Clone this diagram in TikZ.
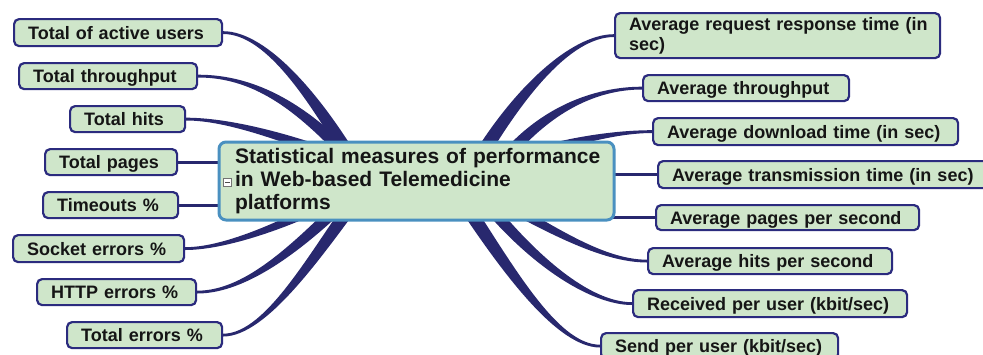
\documentclass[tikz,border=0pt]{standalone}
\usepackage{fontspec}
\setmainfont{Liberation Sans}
\usetikzlibrary{calc}
\pgfdeclarelayer{bg}
\pgfsetlayers{bg,main}
\definecolor{navyb}{HTML}{2B2B7E}
\definecolor{connc}{HTML}{28286E}
\definecolor{leafg}{HTML}{CFE6CA}
\definecolor{hubb}{HTML}{4A90C0}
\definecolor{txt}{HTML}{151515}
\tikzset{
  leaf/.style={draw=navyb, line width=2.2pt, fill=leafg, rounded corners=5pt,
    inner xsep=14pt, inner ysep=0pt, align=left, anchor=north west,
    text height=13pt, text depth=0.1pt, text=txt,
    font=\fontsize{18}{20}\selectfont\bfseries},
  multiline/.style={text height={}, text depth={}},
  hubbox/.style={draw=hubb, line width=3pt, fill=leafg, rounded corners=7pt,
    inner xsep=16pt, inner ysep=0pt, align=left, text=txt,
    font=\fontsize{21}{23}\selectfont\bfseries},
  togglebox/.style={draw=black!55, fill=white, line width=0.5pt,
    minimum size=8pt, inner sep=0pt},
  connfill/.style={fill=connc},
  connline/.style={draw=connc, line width=3.2pt}
}
% #1 start offset from hub centre, #2 first control point, #3 second control dx from end,
% #4 end anchor, #5 start half-width vector, #6 end half-width (signed y)
\newcommand\mmbranch[6]{%
  \fill[connfill]
    ($(hub.center)+(#1)+(#5)$) .. controls ($(#2)+(#5)$) and ($(#4)+(#3,#6)$) .. ($(#4)+(0,#6)$)
    -- ($(#4)-(0,#6)$) .. controls ($(#4)+(#3,0)-(0,#6)$) and ($(#2)-(#5)$) .. ($(hub.center)+(#1)-(#5)$)
    -- cycle;}
\begin{document}
\begin{tikzpicture}[x=1pt,y=-1pt]
\useasboundingbox (0,0) rectangle (983,354);
\begin{scope}
\clip (0,0) rectangle (983,354);
% central node
\node[hubbox, minimum width=395pt, minimum height=78pt, text width=363pt] (hub) at (416.5,181)
  {\mbox{Statistical measures of performance}\\\mbox{in Web-based Telemedicine}\\platforms};
\node[togglebox] (tog) at (227.5,182.5) {};
\draw[black!70, line width=0.8pt] ([xshift=1.8pt]tog.west) -- ([xshift=-1.8pt]tog.east);
% left leaves
\node[leaf, text width=180pt, minimum height=27pt] (l1) at (13,18) {Total of active users};
\node[leaf, text width=150pt, minimum height=26pt] (l2) at (18,62) {Total throughput};
\node[leaf, text width=87pt,  minimum height=26pt] (l3) at (69,105) {Total hits};
\node[leaf, text width=104pt, minimum height=26pt] (l4) at (44,148) {Total pages};
\node[leaf, text width=107pt, minimum height=26pt] (l5) at (42,191) {Timeouts \%};
\node[leaf, text width=143pt, minimum height=27pt] (l6) at (12,234) {Socket errors \%};
\node[leaf, text width=131pt, minimum height=26pt] (l7) at (36,278) {HTTP errors \%};
\node[leaf, text width=127pt, minimum height=26pt] (l8) at (66,321) {Total errors \%};
% right leaves
\node[leaf, multiline, text width=297pt, minimum height=45pt] (r1) at (614,12)
  {\mbox{Average request response time (in}\\sec)};
\node[leaf, text width=178pt, minimum height=26pt] (r2) at (642,74) {Average throughput};
\node[leaf, text width=277pt, minimum height=27pt] (r3) at (652,117) {\mbox{Average download time (in sec)}};
\node[leaf, text width=310pt, minimum height=27pt] (r4) at (657,160) {\mbox{Average transmission time (in sec)}};
\node[leaf, text width=235pt, minimum height=25pt] (r5) at (655,204) {\mbox{Average pages per second}};
\node[leaf, text width=216pt, minimum height=26pt] (r6) at (647,247) {\mbox{Average hits per second}};
\node[leaf, text width=246pt, minimum height=27pt] (r7) at (632,289) {\mbox{Received per user (kbit/sec)}};
\node[leaf, text width=209pt, minimum height=26pt] (r8) at (600,332) {\mbox{Send per user (kbit/sec)}};
\end{scope}
\begin{pgfonlayer}{bg}
  \mmbranch{-52.5,0}{318,100}{44}{l1.east}{6.1,-3.4}{-1.4}
  \mmbranch{-61.5,-17}{305,110}{59}{l2.east}{4.5,-4.1}{-1.4}
  \mmbranch{-73.5,-22}{285,137}{41}{l3.east}{1.9,-4.7}{-1.4}
  \mmbranch{-81.5,18}{290,222}{42}{l6.east}{-2.2,-4.5}{-1.4}
  \mmbranch{-64.5,13}{300,245}{50}{l7.east}{-4.2,-4.3}{-1.4}
  \mmbranch{-56.5,13}{318,250}{44}{l8.east}{-5.2,-4}{-1.4}
  \mmbranch{53.5,-7}{515,95}{-44}{r1.west}{6.1,3.4}{1.4}
  \mmbranch{78.5,-10}{540,110}{-47}{r2.west}{4.8,3.5}{1.4}
  \mmbranch{98.5,-22}{565,142}{-37}{r3.west}{1.7,4.7}{1.4}
  \mmbranch{78.5,18}{545,225}{-47}{r6.west}{-2.2,4.5}{1.4}
  \mmbranch{58.5,8}{530,260}{-42}{r7.west}{-4.7,3.7}{1.4}
  \mmbranch{38.5,8}{505,265}{-44}{r8.west}{-5.8,3.9}{1.4}
  \draw[connline] (l4.east) -- ($(l4.east -| hub.west)+(10,0)$);
  \draw[connline] (l5.east) -- ($(l5.east -| hub.west)+(10,0)$);
  \draw[connline] (r4.west) -- ($(r4.west -| hub.east)+(-10,0)$);
  \draw[connline] (r5.west) -- ($(r5.west -| hub.east)+(-10,0)$);
\end{pgfonlayer}
\end{tikzpicture}
\end{document}
